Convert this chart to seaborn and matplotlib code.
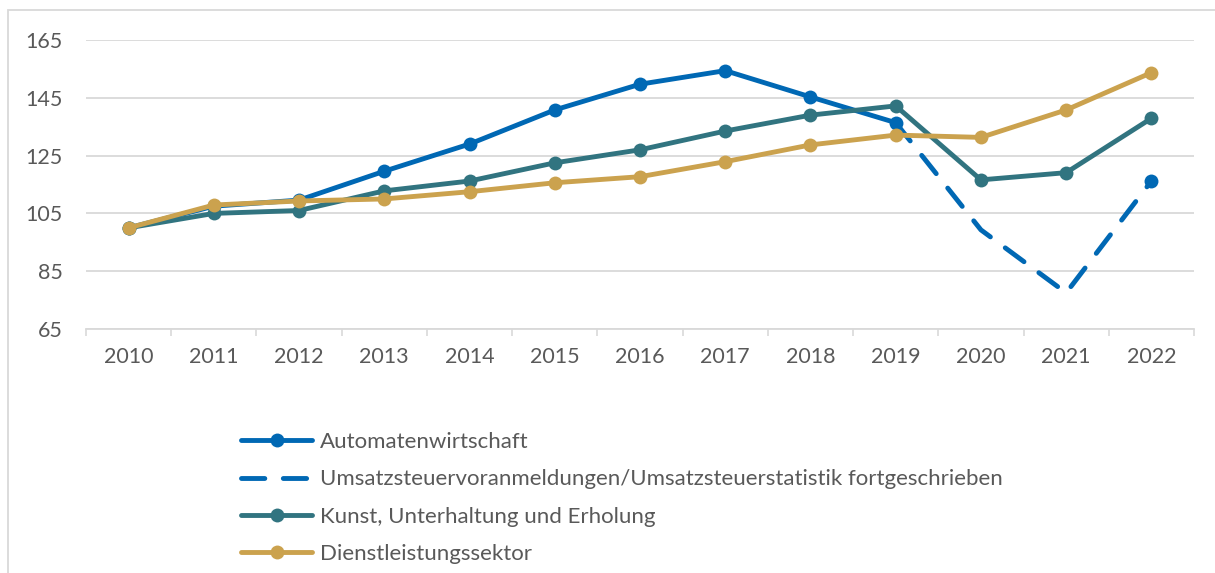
import pandas as pd
import matplotlib.pyplot as plt
import matplotlib.patches as mpatches
import numpy as np
import seaborn as sns

sns.set_style('white')
plt.rcParams['font.family'] = ['Lato', 'DejaVu Sans']

years = [2010, 2011, 2012, 2013, 2014, 2015, 2016, 2017, 2018, 2019, 2020, 2021, 2022]
automaten = [100, 107.5, 109.6, 119.6, 129, 140.8, 149.7, 154.4, 145.3, 136.4, None, None, None]
ustva_years = [2019, 2020, 2021, 2022]
ustva = [136.4, 99.3, 77.5, 116.2]
kunst = [100, 105, 106, 112.8, 116.2, 122.5, 127, 133.5, 139, 142.2, 116.6, 119.1, 137.9]
dienst = [100, 107.9, 109.3, 110, 112.5, 115.6, 117.7, 122.9, 128.7, 132.1, 131.3, 140.8, 153.7]

names = ["Automatenwirtschaft",
         "Umsatzsteuervoranmeldungen/Umsatzsteuerstatistik fortgeschrieben",
         "Kunst, Unterhaltung und Erholung",
         "Dienstleistungssektor"]
blue = '#0068B4'
teal = '#317480'
gold = '#CBA24E'
grey_txt = '#595959'
grid_c = '#D9D9D9'

df = pd.DataFrame({'year': years, 'auto': automaten, 'kunst': kunst, 'dienst': dienst})
df_u = pd.DataFrame({'year': ustva_years, 'val': ustva})

fig, ax = plt.subplots(figsize=(12.15, 5.73), dpi=100)
fig.subplots_adjust(left=86/1215, right=1194/1215, top=1-40/573, bottom=1-329/573)

lw = 3.5
ms = 10
sns.lineplot(data=df_u, x='year', y='val', ax=ax, color=blue, linewidth=lw,
             dashes=False, label=names[1], zorder=2)
ax.lines[-1].set_linestyle((0, (4.8, 3.8)))
ax.lines[-1].set_dash_capstyle('round')
sns.scatterplot(x=df_u['year'].iloc[-1:], y=df_u['val'].iloc[-1:], ax=ax, color=blue,
                s=ms**2, edgecolor=blue, linewidth=0, zorder=2)
sns.lineplot(data=df.dropna(subset=['auto']), x='year', y='auto', ax=ax, color=blue, linewidth=lw,
             marker='o', markersize=ms, markeredgewidth=0, label=names[0], zorder=3)
sns.lineplot(data=df, x='year', y='kunst', ax=ax, color=teal, linewidth=lw,
             marker='o', markersize=ms, markeredgewidth=0, label=names[2], zorder=4)
sns.lineplot(data=df, x='year', y='dienst', ax=ax, color=gold, linewidth=lw,
             marker='o', markersize=ms, markeredgewidth=0, label=names[3], zorder=5)

ax.set_xlim(years[0] - 0.5, years[-1] + 0.5)
ax.set_ylim(65, 165)
ax.set_yticks(np.arange(65, 166, 20))
ax.set_xticks(years)
ax.set_xticks(np.arange(years[0] - 0.5, years[-1] + 1, 1), minor=True)
ax.tick_params(axis='x', which='major', length=0, pad=13, labelsize=15.5, labelcolor=grey_txt)
ax.tick_params(axis='x', which='minor', length=5, width=1.2, color=grid_c, direction='out', bottom=True)
ax.tick_params(axis='y', length=0, pad=17, labelsize=15.5, labelcolor=grey_txt)
ax.yaxis.grid(True, color=grid_c, linewidth=1.3)
ax.set_axisbelow(True)
ax.set_xlabel('')
ax.set_ylabel('')
for s in ['top', 'right', 'left']:
    ax.spines[s].set_visible(False)
ax.spines['bottom'].set_color(grid_c)
ax.spines['bottom'].set_linewidth(1.3)

handles, labels = ax.get_legend_handles_labels()
order = [labels.index(n) for n in names]
leg = fig.legend([handles[i] for i in order], [labels[i] for i in order],
                 loc='upper left', bbox_to_anchor=(241/1215, 1-432/573), frameon=False,
                 fontsize=16, handlelength=3.2, handletextpad=0.36, labelspacing=0.78,
                 borderaxespad=0, borderpad=0)
for t in leg.get_texts():
    t.set_color(grey_txt)
if ax.get_legend():
    ax.get_legend().remove()

fig.patches.append(mpatches.Rectangle((8/1215, -0.05), 1.1, 1 - 10/573 + 0.05,
                                      transform=fig.transFigure, fill=False,
                                      edgecolor=grid_c, linewidth=1.3))

plt.savefig("out.png")
